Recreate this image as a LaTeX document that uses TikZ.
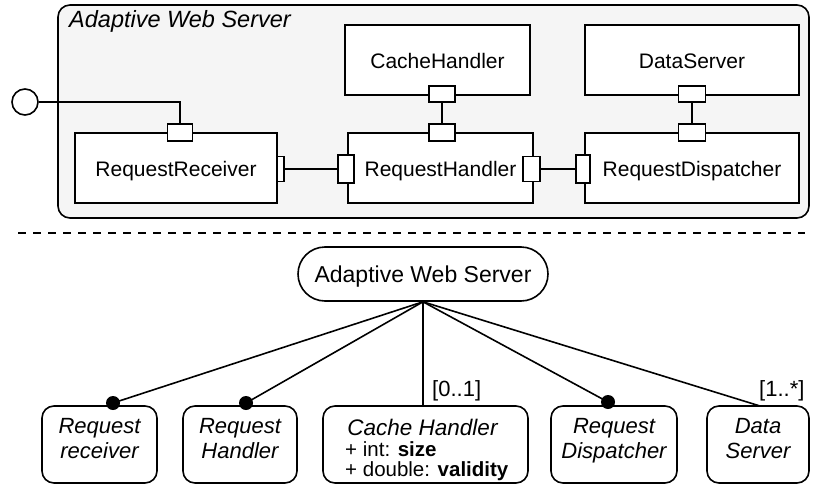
\documentclass[tikz,border=0pt]{standalone}
\usepackage{fontspec}
\setmainfont{Liberation Sans}
\usetikzlibrary{shapes.misc}
\begin{document}
\begin{tikzpicture}[x=1pt,y=-1pt,
  lw/.style={line width=1.6pt},
  outer/.style={draw, lw, rounded corners=12pt, fill=gray!8, inner sep=0pt},
  comp/.style={draw, lw, fill=white, inner sep=0pt, minimum height=70pt,
    font=\fontsize{21}{25}\selectfont, text height=16pt, text depth=0pt},
  port/.style={draw, lw, fill=white, inner sep=0pt},
  iface/.style={draw, lw, circle, fill=white, minimum size=26pt, inner sep=0pt},
  conn/.style={lw},
  sepline/.style={line width=1.8pt, dash pattern=on 8pt off 7pt},
  root/.style={draw, lw, rounded rectangle, minimum width=250pt, minimum height=54pt,
    inner sep=0pt, font=\fontsize{23}{27}\selectfont, text height=16pt, text depth=0pt},
  feat/.style={draw, lw, rounded corners=12pt, inner sep=0pt, align=center,
    minimum height=77pt, font=\fontsize{22}{25}\selectfont\itshape, text depth=12pt},
  mult/.style={inner sep=0pt, anchor=base west, font=\fontsize{22}{26}\selectfont},
  attr/.style={inner sep=0pt, anchor=base west, font=\fontsize{20.5}{24}\selectfont},
  dot/.style={fill=black}
]
\useasboundingbox (0,0) rectangle (813,487);

% ---------- upper part: composite structure ----------
\node[outer, minimum width=751pt, minimum height=213pt] (aws) at (433.5,111.5) {};
\node[inner sep=0pt, anchor=base west, font=\fontsize{23.5}{27}\selectfont\itshape] (awstitle) at (69,27.5) {Adaptive Web Server};

\node[comp, minimum width=185pt] (cache) at (437.5,60) {CacheHandler};
\node[comp, minimum width=214pt] (data) at (692,60) {DataServer};
\node[comp, minimum width=202pt] (recv) at (176,168) {RequestReceiver};
\node[comp, minimum width=185pt] (hand) at (440.5,168) {RequestHandler};
\node[comp, minimum width=214pt] (disp) at (692,168) {RequestDispatcher};

% ports
\node[port, minimum width=25pt, minimum height=17pt] (pRecvT) at (180,132.5) {};
\node[port, minimum width=7pt, minimum height=25pt] (pRecvR) at (280.5,169) {};
\node[port, minimum width=16pt, minimum height=28pt] (pHandL) at (346,169) {};
\node[port, minimum width=26pt, minimum height=17pt] (pHandT) at (442,132.5) {};
\node[port, minimum width=26pt, minimum height=16pt] (pCacheB) at (442,94) {};
\node[port, minimum width=17pt, minimum height=25pt] (pHandR) at (531.5,169) {};
\node[port, minimum width=14pt, minimum height=28pt] (pDispL) at (583,169) {};
\node[port, minimum width=27pt, minimum height=16pt] (pDataB) at (692,94) {};
\node[port, minimum width=27pt, minimum height=17pt] (pDispT) at (692,132.5) {};

% provided interface
\node[iface] (ifc) at (25,102) {};

% connectors
\draw[conn] (ifc.east) -| (pRecvT.north);
\draw[conn] (pRecvR.east) -- (pHandL.west);
\draw[conn] (pCacheB.south) -- (pHandT.north);
\draw[conn] (pHandR.east) -- (pDispL.west);
\draw[conn] (pDataB.south) -- (pDispT.north);

% ---------- separator ----------
\coordinate (sepL) at (18,233);
\coordinate (sepR) at (805,233);
\draw[sepline] (sepL) -- (sepR);

% ---------- lower part: feature model ----------
\node[root] (rt) at (423,274) {Adaptive Web Server};

\node[feat, minimum width=115pt] (fRecv) at (99.5,444.5) {Request\\receiver};
\node[feat, minimum width=114pt] (fHand) at (240,444.5) {Request\\Handler};
\node[feat, minimum width=205pt] (fCache) at (425.5,444.5) {};
\node[feat, minimum width=126pt] (fDisp) at (614,444.5) {Request\\Dispatcher};
\node[feat, minimum width=102pt] (fData) at (758,444.5) {Data\\Server};

\node[inner sep=0pt, anchor=base, font=\fontsize{22.5}{26}\selectfont\itshape] (cacheTitle) at (422.5,435) {Cache Handler};
\node[attr] (cacheA1) at (345,456) {+ int: \textbf{size}};
\node[attr] (cacheA2) at (345,476) {+ double: \textbf{validity}};

\coordinate (dRecv) at (113,403);
\coordinate (dHand) at (246,403);
\coordinate (dDisp) at (608,402);
\coordinate (eData) at (760,406);

\draw[conn] (rt.south) -- (dRecv);
\draw[conn] (rt.south) -- (dHand);
\draw[conn] (rt.south) -- (rt.south |- fCache.north);
\draw[conn] (rt.south) -- (dDisp);
\draw[conn] (rt.south) -- (eData);

\fill[dot] (dRecv) circle (7pt);
\fill[dot] (dHand) circle (7pt);
\fill[dot] (dDisp) circle (7pt);

\node[mult] (m01) at (432,396) {[0..1]};
\node[mult] (m1n) at (759,396) {[1..*]};
\end{tikzpicture}
\end{document}
